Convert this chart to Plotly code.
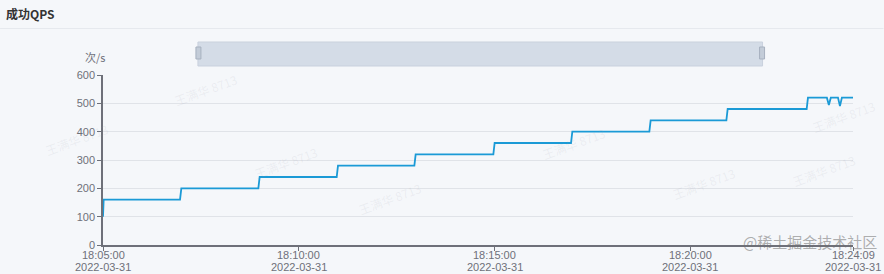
import plotly.graph_objects as go

# ---- data ----
times = [
    "2022-03-31 18:05:00", "2022-03-31 18:05:01",
    "2022-03-31 18:06:58", "2022-03-31 18:07:00",
    "2022-03-31 18:08:58", "2022-03-31 18:09:00",
    "2022-03-31 18:10:58", "2022-03-31 18:11:00",
    "2022-03-31 18:12:57", "2022-03-31 18:12:59",
    "2022-03-31 18:14:58", "2022-03-31 18:15:00",
    "2022-03-31 18:16:57", "2022-03-31 18:16:59",
    "2022-03-31 18:18:57", "2022-03-31 18:18:59",
    "2022-03-31 18:20:55", "2022-03-31 18:20:57",
    "2022-03-31 18:22:58", "2022-03-31 18:23:00",
    "2022-03-31 18:23:29", "2022-03-31 18:23:32", "2022-03-31 18:23:35",
    "2022-03-31 18:23:46", "2022-03-31 18:23:49", "2022-03-31 18:23:52",
    "2022-03-31 18:24:09",
]
qps = [
    100, 160,
    160, 200,
    200, 240,
    240, 280,
    280, 320,
    320, 360,
    360, 400,
    400, 440,
    440, 480,
    480, 520,
    520, 494, 520,
    520, 490, 520,
    520,
]
x_tick_vals = ["2022-03-31 18:05:00", "2022-03-31 18:10:00", "2022-03-31 18:15:00",
               "2022-03-31 18:20:00", "2022-03-31 18:24:09"]
x_tick_time = ["18:05:00", "18:10:00", "18:15:00", "18:20:00", "18:24:09"]
x_tick_date = ["2022-03-31", "2022-03-31", "2022-03-31", "2022-03-31", "2022-03-31"]
y_tick_vals = [0, 100, 200, 300, 400, 500, 600]

BG = "#f5f7fa"
FONT = "Noto Sans CJK SC, Noto Sans, sans-serif"
LFONT = "Liberation Sans, Arial, sans-serif"
AXC = "#6e7079"

fig = go.Figure()
fig.add_trace(go.Scatter(
    x=times, y=qps, mode="lines",
    line=dict(color="#1b9ad6", width=1.8),
    hoverinfo="x+y", showlegend=False,
))

L, R, T, B = 103, 30.5, 75, 29
PW = 884 - L - R
PH = 274 - T - B

def px_x(p):
    return (p - L) / PW

def px_y(p):
    return (274 - B - p) / PH

shapes = [
    # title separator
    dict(type="line", xref="paper", yref="paper", x0=px_x(0), x1=px_x(884),
         y0=px_y(28.5), y1=px_y(28.5), line=dict(color="#e6e9ee", width=1)),
    # data zoom slider body
    dict(type="rect", xref="paper", yref="paper", x0=px_x(198), x1=px_x(763),
         y0=px_y(66), y1=px_y(42), fillcolor="#d4dce7",
         line=dict(color="#c9d1dd", width=1)),
    # slider handles
    dict(type="rect", xref="paper", yref="paper", x0=px_x(196), x1=px_x(201),
         y0=px_y(59), y1=px_y(47), fillcolor="#c3ccd8",
         line=dict(color="#a7b1bf", width=1)),
    dict(type="rect", xref="paper", yref="paper", x0=px_x(760), x1=px_x(765),
         y0=px_y(59), y1=px_y(47), fillcolor="#c3ccd8",
         line=dict(color="#a7b1bf", width=1)),
]

annotations = [
    dict(text="<b>成功QPS</b>", xref="paper", yref="paper", x=px_x(4), y=px_y(14),
         xanchor="left", yanchor="middle", showarrow=False,
         font=dict(size=12, color="#333333", family=FONT)),
    dict(text="次/s", xref="paper", yref="paper", x=px_x(95), y=px_y(57),
         xanchor="center", yanchor="middle", showarrow=False,
         font=dict(size=11, color=AXC, family=FONT)),
    dict(text="@稀土掘金技术社区", xref="paper", yref="paper", x=px_x(880), y=px_y(241),
         xanchor="right", yanchor="middle", showarrow=False,
         font=dict(size=15, color="rgba(110,110,110,0.55)", family=FONT)),
]

# x tick labels (two lines) positioned on the x scale
for tv, tt, td in zip(x_tick_vals, x_tick_time, x_tick_date):
    annotations.append(dict(text=tt, xref="x", yref="paper", x=tv, y=px_y(254.5),
                            xanchor="center", yanchor="middle", showarrow=False,
                            borderpad=0,
                            font=dict(size=11, color=AXC, family=LFONT)))
    annotations.append(dict(text=td, xref="x", yref="paper", x=tv, y=px_y(266.5),
                            xanchor="center", yanchor="middle", showarrow=False,
                            borderpad=0,
                            font=dict(size=11, color=AXC, family=LFONT)))

# faint rotated watermarks
for (wx, wy) in [(170, 68), (40, 118), (250, 162), (610, 122), (880, 95), (390, 220), (740, 205), (860, 170)]:
    annotations.append(dict(text="王满华 8713", xref="paper", yref="paper",
                            x=px_x(wx), y=px_y(wy), showarrow=False, textangle=-20,
                            font=dict(size=12, color="rgba(150,160,175,0.12)", family=FONT)))

fig.update_layout(
    width=884, height=274,
    margin=dict(l=L, r=R, t=T, b=B, autoexpand=False),
    paper_bgcolor=BG, plot_bgcolor=BG,
    font=dict(family=LFONT, size=11, color=AXC),
    shapes=shapes, annotations=annotations,
    xaxis=dict(
        type="date", automargin=False,
        range=["2022-03-31 18:05:00", "2022-03-31 18:24:09"],
        tickvals=x_tick_vals, showticklabels=False,
        showgrid=False, zeroline=False,
        showline=True, linecolor=AXC, linewidth=1.5,
        ticks="outside", ticklen=4, tickcolor=AXC,
        fixedrange=True,
    ),
    yaxis=dict(
        range=[0, 600], tickvals=y_tick_vals, automargin=False,
        showgrid=True, gridcolor="#e0e3e8", gridwidth=1,
        zeroline=False,
        showline=True, linecolor=AXC, linewidth=1.5,
        ticks="outside", ticklen=4, tickcolor=AXC,
        tickfont=dict(size=11, color=AXC, family=LFONT),
        fixedrange=True,
    ),
)

fig.write_html("out.html")
